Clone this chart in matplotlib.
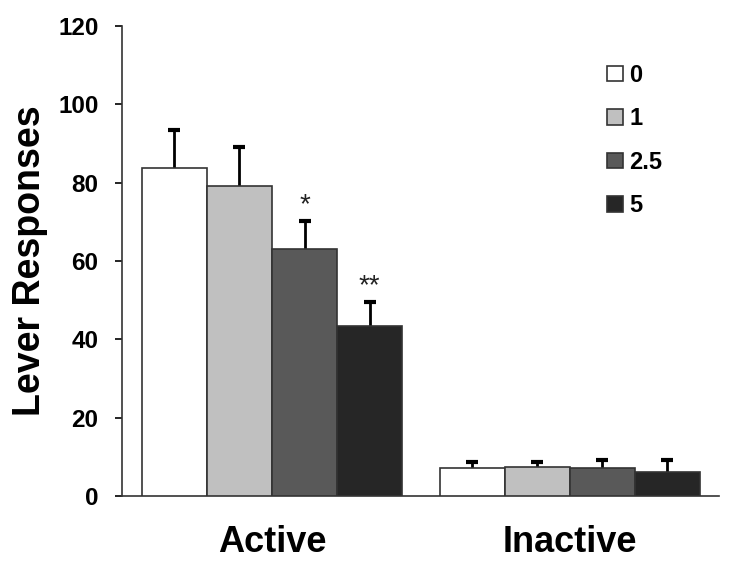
import matplotlib
matplotlib.use("Agg")
import matplotlib.pyplot as plt
import numpy as np

plt.rcParams['font.family'] = ['Liberation Sans', 'DejaVu Sans']

groups = ["Active", "Inactive"]
doses = ["0", "1", "2.5", "5"]
means = {
    "0":   [83.7, 7.1],
    "1":   [79.1, 7.4],
    "2.5": [63.0, 7.1],
    "5":   [43.4, 6.1],
}
sems = {
    "0":   [9.7, 1.6],
    "1":   [9.9, 1.3],
    "2.5": [7.1, 2.1],
    "5":   [6.1, 3.1],
}
marks = {"2.5": ["*", ""], "5": ["**", ""]}
colors = ["#ffffff", "#c0c0c0", "#595959", "#262626"]

fig = plt.figure(figsize=(7.29, 5.70), dpi=100)
ax = fig.add_axes([0.1674, 0.1298, 0.819, 0.8246])

x = np.arange(len(groups))
w = 0.2185
for i, d in enumerate(doses):
    pos = x + (i - 1.5) * w
    m = np.array(means[d])
    s = np.array(sems[d])
    ax.bar(pos, m, w, color=colors[i], edgecolor="#333333", linewidth=1.2,
           label=d, zorder=3)
    # upper half of the error bar only
    ax.vlines(pos, m, m + s, color="black", linewidth=2, zorder=2)
    ax.plot(pos, m + s, linestyle="none", marker="_", markersize=8,
            markeredgewidth=3, color="black", zorder=2)
    if d in marks:
        for p, mm, ss, t in zip(pos, m, s, marks[d]):
            if t:
                ax.text(p, mm + ss + 0.8, t, ha="center", va="bottom", fontsize=20,
                        color="#222222")

ax.set_xlim(-0.504, 1.5025)
ax.set_ylim(0, 120)
ax.set_yticks(np.arange(0, 121, 20))
ax.set_xticks(x)
ax.set_xticklabels(groups, fontsize=26, fontweight="bold")
ax.tick_params(axis="x", length=0, pad=21)
ax.tick_params(axis="y", direction="out", length=5, width=1.2, labelsize=17.5, pad=12)
for lab in ax.get_yticklabels():
    lab.set_fontweight("bold")
ax.spines["top"].set_visible(False)
ax.spines["right"].set_visible(False)
for sp in ("left", "bottom"):
    ax.spines[sp].set_color("#333333")
    ax.spines[sp].set_linewidth(1.2)
ax.set_ylabel("Lever Responses", fontsize=27, fontweight="bold", labelpad=7)

leg = ax.legend(loc="upper left", bbox_to_anchor=(0.777, 0.965), frameon=False,
                prop={"size": 17, "weight": "bold"}, handlelength=0.65,
                handleheight=0.65, handletextpad=0.3, labelspacing=0.87)

fig.savefig("out.png", dpi=100)
